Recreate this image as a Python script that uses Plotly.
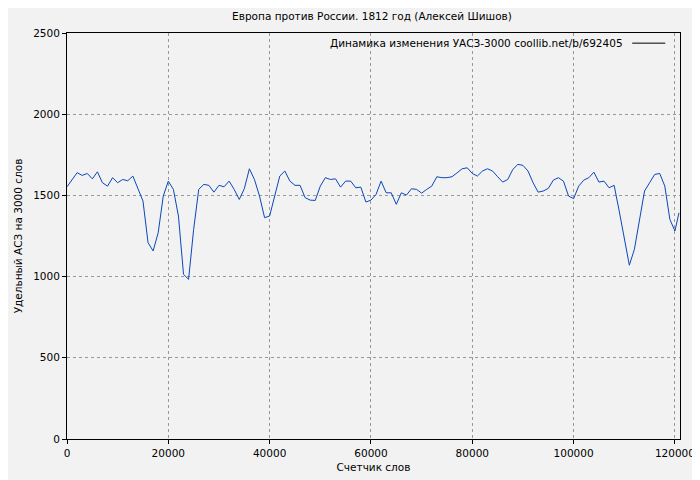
import plotly.graph_objects as go

words = list(range(0, 121000, 1000)) + [120800]
values = [1553,1598,1640,1623,1635,1602,1645,1578,1557,1609,1578,1598,1590,1619,1547,1465,1209,1158,1270,1496,
          1588,1537,1373,1014,983,1291,1537,1568,1562,1520,1562,1553,1588,1537,1475,1541,1664,1598,1496,1363,
          1373,1496,1619,1650,1588,1562,1562,1486,1471,1469,1557,1609,1598,1602,1551,1588,1588,1547,1551,1459,
          1471,1506,1588,1516,1516,1445,1516,1502,1541,1537,1514,1537,1557,1615,1609,1609,1615,1639,1664,1670,
          1635,1619,1650,1664,1650,1615,1582,1598,1660,1691,1685,1650,1578,1520,1527,1543,1594,1609,1588,1496,
          1480,1557,1594,1609,1643,1582,1588,1547,1562,1404,1230,1070,1168,1352,1527,1578,1629,1635,1557,1352,
          1281,1393]
series_name = "Динамика изменения УАСЗ-3000 coollib.net/b/692405"
line_color = "#0a47b8"

fig = go.Figure(go.Scatter(x=words, y=values, mode="lines",
                           line=dict(color=line_color, width=1), name=series_name))
ax = dict(showline=True, linecolor="black", linewidth=1, mirror=True, ticks="outside",
          ticklen=4, tickcolor="black", gridcolor="#999999", griddash="dot", zeroline=False,
          tickfont=dict(size=10.5, color="black"), automargin=False)
fig.update_layout(
    width=692, height=472, paper_bgcolor="#f2f2f2", plot_bgcolor="#f2f2f2",
    margin=dict(l=59, r=20, t=25, b=41, autoexpand=False),
    font=dict(family="DejaVu Sans", size=10.5, color="black"),
    title=dict(text="Европа против России. 1812 год (Алексей Шишов)", x=0.526, y=0.983,
               xanchor="center", yanchor="middle", font=dict(size=10.5)),
    showlegend=False,
    xaxis=dict(ax, range=[0, 121000], dtick=20000, tickformat="d",
               title=dict(text="Счетчик слов", font=dict(size=10.5), standoff=6)),
    yaxis=dict(ax, range=[0, 2500], dtick=500, tickformat="d",
               title=dict(text="Удельный АСЗ на 3000 слов", font=dict(size=10.5), standoff=8)),
    annotations=[dict(text=series_name, xref="paper", yref="paper", x=0.910, y=0.975,
                      xanchor="right", yanchor="middle", showarrow=False, font=dict(size=10.5))],
    shapes=[dict(type="line", xref="paper", yref="paper", x0=0.922, x1=0.976, y0=0.975, y1=0.975,
                 line=dict(color="#000000", width=1))],
)
fig.write_html("out.html")
